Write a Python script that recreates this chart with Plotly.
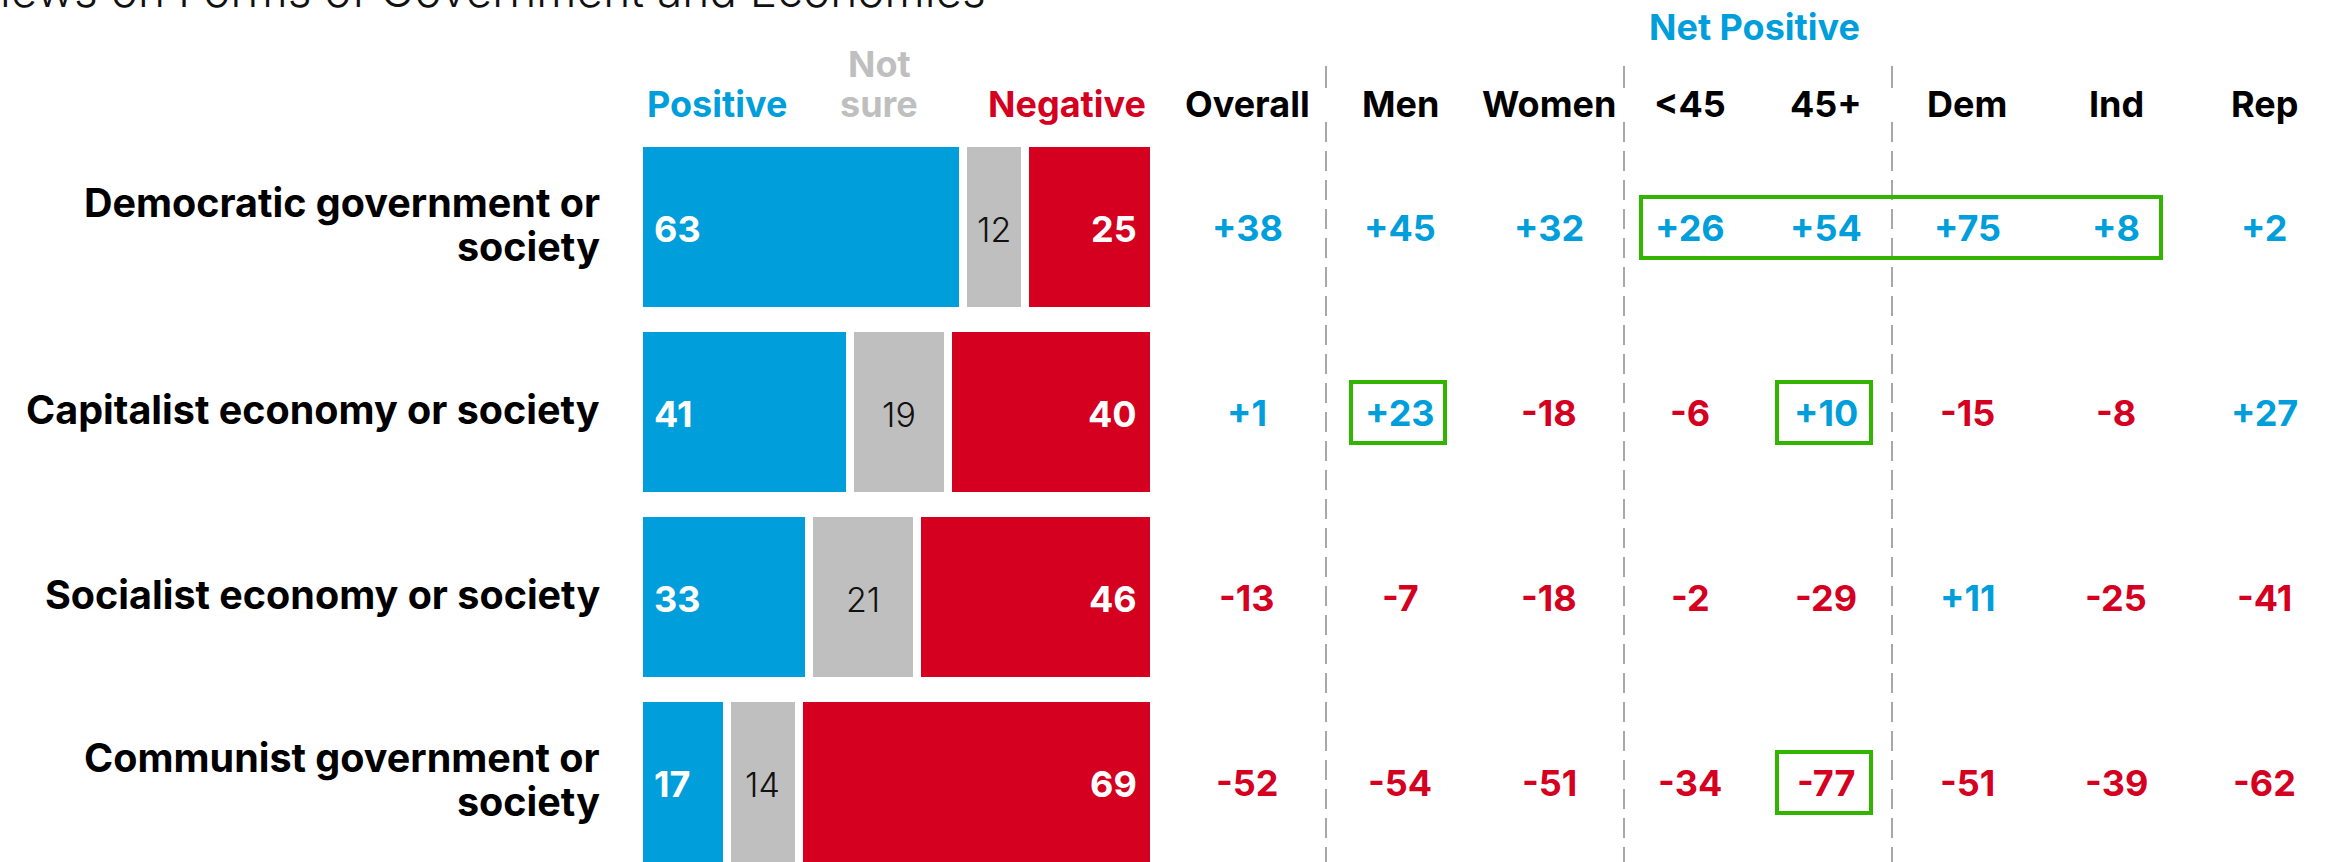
import plotly.graph_objects as go

# ---------------- data ----------------
categories = ["Democratic government or<br>society", "Capitalist economy or society",
              "Socialist economy or society", "Communist government or<br>society"]
positive = [63, 41, 33, 17]
not_sure = [12, 19, 21, 14]
negative = [25, 40, 46, 69]

groups = ["Overall", "Men", "Women", "<45", "45+", "Dem", "Ind", "Rep"]
net_democratic = [38, 45, 32, 26, 54, 75, 8, 2]
net_capitalist = [1, 23, -18, -6, 10, -15, -8, 27]
net_socialist = [-13, -7, -18, -2, -29, 11, -25, -41]
net_communist = [-52, -54, -51, -34, -77, -51, -39, -62]
net_rows = [net_democratic, net_capitalist, net_socialist, net_communist]

# highlighted cells: (row, first group, last group)
highlights = [(0, "<45", "Ind"), (1, "Men", "Men"), (1, "45+", "45+"), (3, "45+", "45+")]

title_text = "Views on Forms of Government and Economies"
header_pos, header_ns, header_neg, header_net = "Positive", "Not<br>sure", "Negative", "Net Positive"

# ---------------- style / layout ----------------
W, H = 2328, 862
BLUE, RED, GREY, GREEN = "#009EDB", "#D5001F", "#BFBFBF", "#33B400"
DASH_GREY = "#A8A8A8"
FONT = "Inter, Open Sans, sans-serif"
BAR_LEFT_PX, BAR_RIGHT_PX = 639, 1154
ROW0_PX, ROW_STEP_PX = 227, 185
COL_X = [1247, 1400, 1549, 1690, 1826, 1967, 2116, 2264]
DIVIDERS_X = [1326, 1624, 1892]
HEADER_Y = 104
LABEL_RIGHT_PX = 602
LABEL_LINE_PX = 44
HEADER_LINE_PX = 40
BOLD = dict(family=FONT, size=36, weight=700)


def py(px):
    return 1 - px / H


rows = list(range(len(categories)))
fig = go.Figure()

for vals, color in [(positive, BLUE), (not_sure, GREY), (negative, RED)]:
    fig.add_trace(go.Bar(
        y=rows, x=vals, orientation="h", width=0.908, xaxis="x", yaxis="y",
        marker=dict(color=color, line=dict(color="white", width=8)),
        hoverinfo="skip", showlegend=False))

ann = []
# category labels (one annotation per wrapped line, tight line spacing)
for r, cat in enumerate(categories):
    lines = cat.split("<br>")
    n = len(lines)
    for k, ln in enumerate(lines):
        ann.append(dict(x=LABEL_RIGHT_PX, y=r, xref="x2", yref="y", text=ln, showarrow=False,
                        xanchor="right", yanchor="middle",
                        yshift=2 - ((k - (n - 1) / 2) * LABEL_LINE_PX),
                        font=dict(family=FONT, size=39.5, weight=700, color="black")))

# net values table
for r, vals in enumerate(net_rows):
    for c, v in enumerate(vals):
        ann.append(dict(x=COL_X[c], y=r, xref="x2", yref="y", text=f"{v:+d}", showarrow=False,
                        xanchor="center", yanchor="middle", yshift=-1,
                        font=dict(BOLD, color=BLUE if v > 0 else RED)))

# values inside bars
for r in rows:
    ann.append(dict(x=0, y=r, xref="x", yref="y", text=str(positive[r]), showarrow=False,
                    xanchor="left", xshift=13, yshift=-2, font=dict(BOLD, color="white")))
    ann.append(dict(x=positive[r] + not_sure[r] / 2, y=r, xref="x", yref="y",
                    text=str(not_sure[r]), showarrow=False, xanchor="center", yshift=-2,
                    font=dict(family=FONT, size=34, weight=300, color="#111111")))
    ann.append(dict(x=100, y=r, xref="x", yref="y", text=str(negative[r]), showarrow=False,
                    xanchor="right", xshift=-15, yshift=-2, font=dict(BOLD, color="white")))

# headers
ann.append(dict(x=645, y=py(HEADER_Y), xref="x2", yref="paper", text=header_pos, showarrow=False,
                xanchor="left", yanchor="middle", font=dict(BOLD, color=BLUE)))
ns_lines = header_ns.split("<br>")
for k, ln in enumerate(ns_lines):
    ann.append(dict(x=879, y=py(HEADER_Y - (len(ns_lines) - 1 - k) * HEADER_LINE_PX),
                    xref="x2", yref="paper", text=ln, showarrow=False,
                    xanchor="center", yanchor="middle", font=dict(BOLD, color=GREY)))
ann.append(dict(x=1148, y=py(HEADER_Y), xref="x2", yref="paper", text=header_neg, showarrow=False,
                xanchor="right", yanchor="middle", font=dict(BOLD, color=RED)))
for c, g in enumerate(groups):
    ann.append(dict(x=COL_X[c], y=py(HEADER_Y), xref="x2", yref="paper", text=g, showarrow=False,
                    xanchor="center", yanchor="middle", font=dict(BOLD, color="black")))
ann.append(dict(x=1754, y=py(27), xref="x2", yref="paper", text=header_net, showarrow=False,
                xanchor="center", yanchor="middle", font=dict(BOLD, color=BLUE)))
# title (cut off at top-left like the source)
ann.append(dict(x=988, y=py(-10), xref="x2", yref="paper", text=title_text, showarrow=False,
                xanchor="right", yanchor="middle",
                font=dict(family=FONT, size=46, weight=300, color="#111111")))

shapes = []
for xd in DIVIDERS_X:
    shapes.append(dict(type="line", xref="x2", yref="paper", x0=xd, x1=xd, y0=py(66), y1=py(88),
                       line=dict(color=DASH_GREY, width=2)))
    shapes.append(dict(type="line", xref="x2", yref="paper", x0=xd, x1=xd, y0=py(122), y1=py(H),
                       line=dict(color=DASH_GREY, width=2, dash="20px,9px")))
for r, g0, g1 in highlights:
    c0, c1 = groups.index(g0), groups.index(g1)
    shapes.append(dict(type="rect", xref="x2", yref="y",
                       x0=COL_X[c0] - 49, x1=COL_X[c1] + 45,
                       y0=r - 30 / ROW_STEP_PX, y1=r + 31 / ROW_STEP_PX,
                       line=dict(color=GREEN, width=4), fillcolor="rgba(0,0,0,0)"))

fig.update_layout(
    width=W, height=H, margin=dict(l=0, r=0, t=0, b=0),
    paper_bgcolor="white", plot_bgcolor="rgba(0,0,0,0)", barmode="stack",
    bargap=0, annotations=ann, shapes=shapes,
    xaxis=dict(domain=[BAR_LEFT_PX / W, BAR_RIGHT_PX / W], range=[0, 100], visible=False,
               anchor="y", fixedrange=True),
    xaxis2=dict(domain=[0, 1], range=[0, W], visible=False, anchor="y", fixedrange=True),
    yaxis=dict(range=[(H - ROW0_PX) / ROW_STEP_PX, -ROW0_PX / ROW_STEP_PX], anchor="x",
               tickmode="array", tickvals=rows, showticklabels=False, ticks="",
               showgrid=False, zeroline=False, showline=False, fixedrange=True),
    font=dict(family=FONT),
)

fig.write_html("out.html", config=dict(displayModeBar=False),
               post_script="document.body.style.margin='0';document.body.style.overflow='hidden';")
